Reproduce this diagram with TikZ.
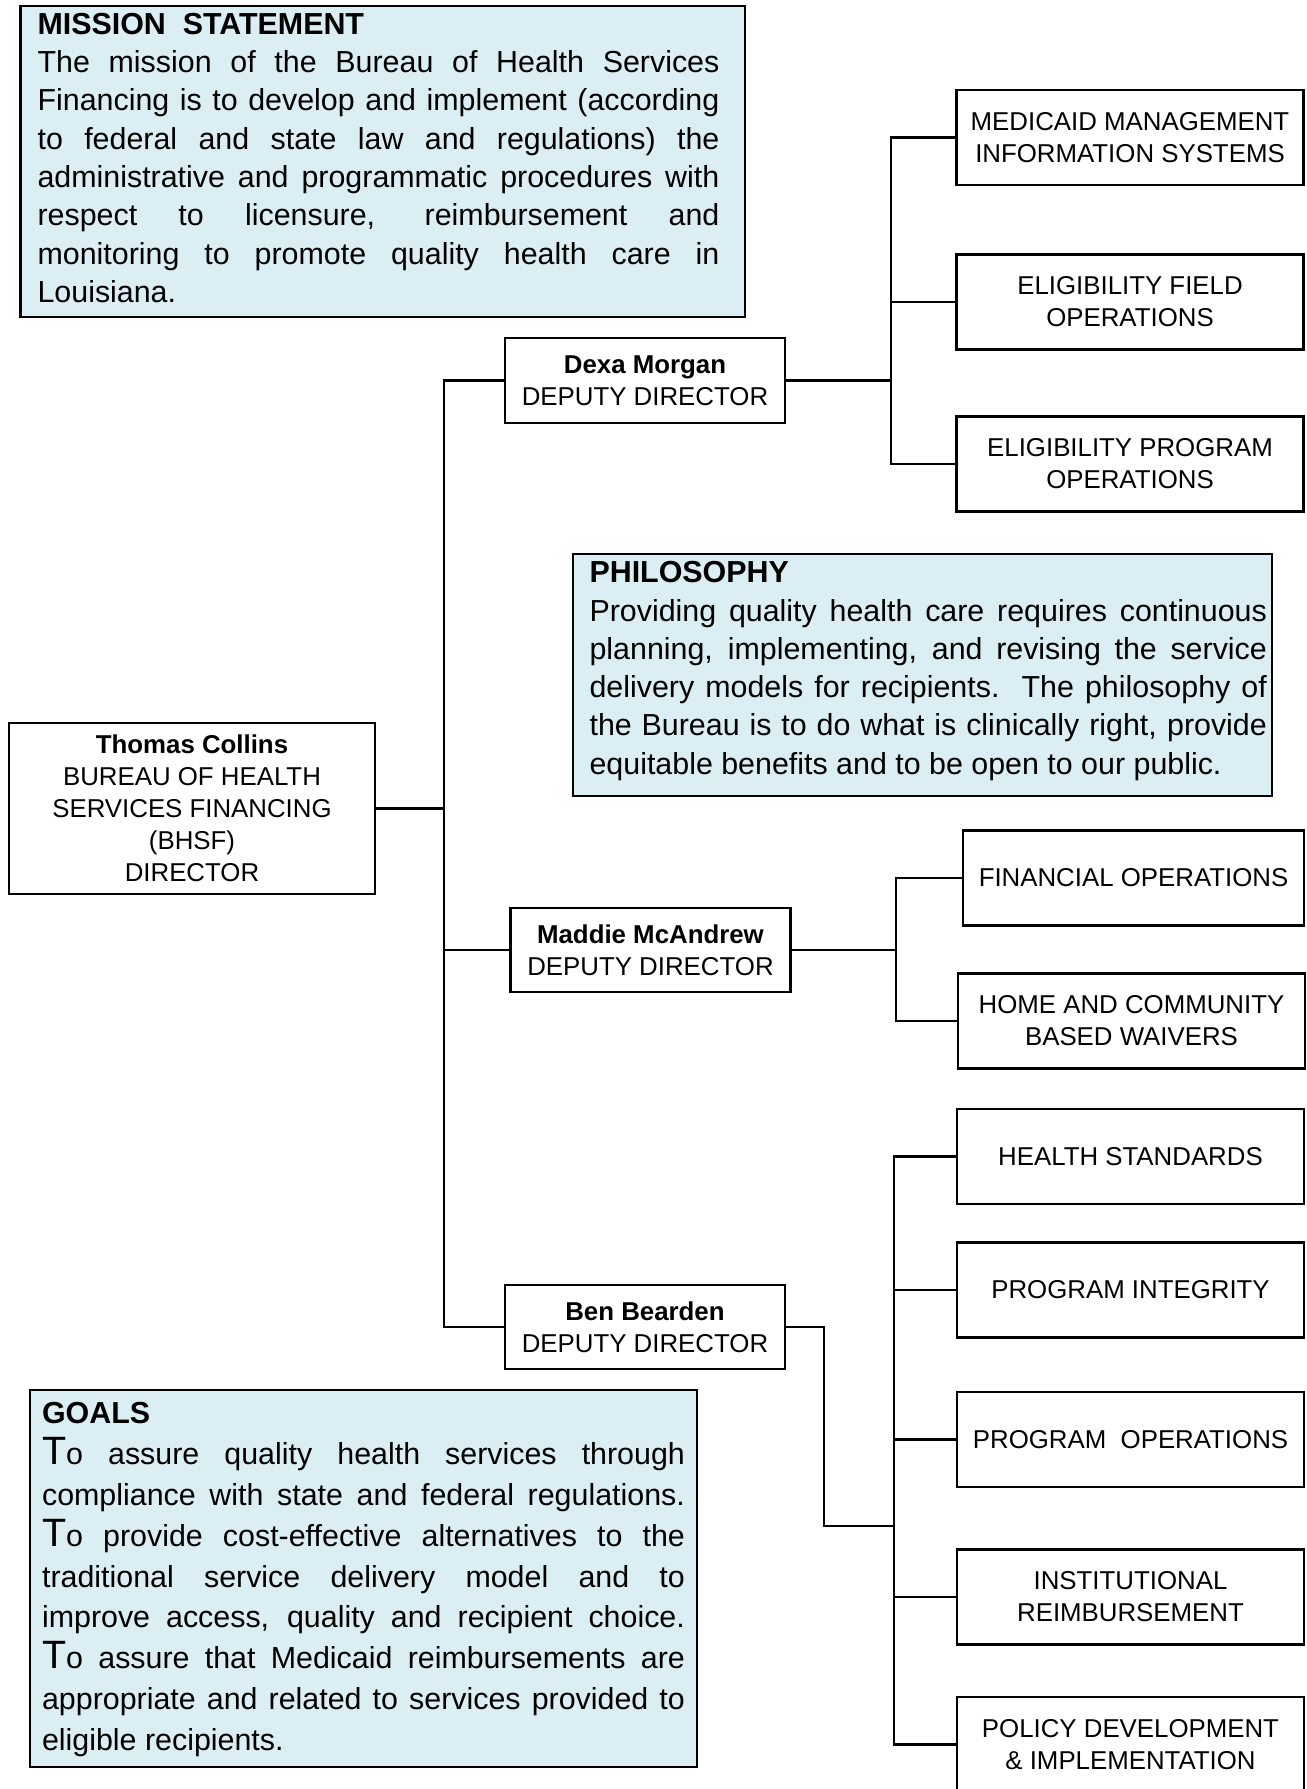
\documentclass[tikz,border=0pt]{standalone}
\usepackage{fontspec}
\setmainfont{Liberation Sans}
\usepackage{xcolor}
\usepackage{tikz}
\usetikzlibrary{calc}
\usetikzlibrary{positioning}
\definecolor{panelblue}{RGB}{218,238,243}
\newcommand{\bigT}{{\fontsize{22.5}{22.5}\selectfont T}}
\hbadness=10000

\begin{document}
\begin{tikzpicture}[x=0.02cm,y=-0.02cm,line width=1.2pt]
  \tikzstyle{org}=[draw, line width=1.3pt, align=center, inner sep=2pt,
                   font=\fontsize{14.7}{18.2}\selectfont]
  \tikzstyle{deputy}=[org, minimum width=5.6cm, minimum height=1.69cm]
  \tikzstyle{unit}=[org, minimum width=6.94cm, minimum height=1.9cm]
  \tikzstyle{panel}=[draw, line width=1.3pt, fill=panelblue, inner sep=0pt]
  \tikzstyle{paneltext}=[anchor=north west, inner sep=0pt, align=justify,
                         font=\fontsize{17.3}{21.8}\selectfont]
  \useasboundingbox (0,0) rectangle (1306,1789);

  % text panels
  \node[panel, minimum width=14.49cm, minimum height=6.22cm] (mission) at (382.75,161.35) {};
  \node[paneltext, text width=13.64cm] (missiontext) at (36.5,12)
    {\textbf{MISSION\ \ STATEMENT}\\
     The mission of the Bureau of Health Services\linebreak
     Financing is to develop and implement (according\linebreak
     to federal and state law and regulations) the\linebreak
     administrative and programmatic procedures with\linebreak
     respect to licensure, reimbursement and\linebreak
     monitoring to promote quality health care in\linebreak
     Louisiana.};

  \node[panel, minimum width=13.98cm, minimum height=4.84cm] (philosophy) at (922.5,675) {};
  \node[paneltext, text width=13.55cm] (philosophytext) at (588.5,560.5)
    {\textbf{PHILOSOPHY}\\
     Providing quality health care requires continuous\linebreak
     planning, implementing, and revising the service\linebreak
     delivery models for recipients.\ \ The philosophy of\linebreak
     the Bureau is to do what is clinically right, provide\linebreak
     equitable benefits and to be open to our public.};

  \node[panel, minimum width=13.34cm, minimum height=7.54cm] (goals) at (363.5,1578.5) {};
  \node[paneltext, text width=12.86cm, font=\fontsize{17.3}{23.3}\selectfont] (goalstext) at (41,1401)
    {\textbf{GOALS}\\
     \bigT{}o assure quality health services through\linebreak
     compliance with state and federal regulations.\linebreak
     \bigT{}o provide cost-effective alternatives to the\linebreak
     traditional service delivery model and to\linebreak
     improve access, quality and recipient choice.\linebreak
     \bigT{}o assure that Medicaid reimbursements are\linebreak
     appropriate and related to services provided to\linebreak
     eligible recipients.};

  % director and deputies
  \node[org, minimum width=7.32cm, minimum height=3.42cm] (director) at (192,808.5)
    {\textbf{Thomas Collins}\\BUREAU OF HEALTH\\SERVICES FINANCING\\(BHSF)\\DIRECTOR};
  \node[deputy] (dexa)   at (645,380.5) {\textbf{Dexa Morgan}\\DEPUTY DIRECTOR};
  \node[deputy] (maddie) at (650.5,950) {\textbf{Maddie McAndrew}\\DEPUTY DIRECTOR};
  \node[deputy] (ben)    at (645,1327)  {\textbf{Ben Bearden}\\DEPUTY DIRECTOR};

  % sections
  \node[unit] (mmis)   at (1130,137.5)  {MEDICAID MANAGEMENT\\INFORMATION SYSTEMS};
  \node[unit] (efo)    at (1130,302)    {ELIGIBILITY FIELD\\OPERATIONS};
  \node[unit] (epo)    at (1130,464)    {ELIGIBILITY PROGRAM\\OPERATIONS};
  \node[unit, minimum width=6.82cm] (finops) at (1133.5,878) {FINANCIAL OPERATIONS};
  \node[unit] (hcbw)   at (1131.5,1021) {HOME AND COMMUNITY\\BASED WAIVERS};
  \node[unit] (hstd)   at (1130.5,1156.5) {HEALTH STANDARDS};
  \node[unit] (pint)   at (1130.5,1290) {PROGRAM INTEGRITY};
  \node[unit] (pops)   at (1130.5,1439.5) {PROGRAM\ \ OPERATIONS};
  \node[unit] (inst)   at (1130.5,1597) {INSTITUTIONAL\\REIMBURSEMENT};
  \node[unit] (policy) at (1130.5,1744.5) {POLICY DEVELOPMENT\\\& IMPLEMENTATION};

  % connectors
  \coordinate (spine) at (444,808.5);
  \draw (director.east) -- (spine);
  \foreach \d in {dexa,maddie,ben}
    \draw (\d.west) -| (spine);

  \coordinate (dexabus) at (891,380.5);
  \draw (dexa.east) -- (dexabus);
  \foreach \u in {mmis,efo,epo}
    \draw (\u.west) -| (dexabus);

  \coordinate (maddiebus) at (896,950);
  \draw (maddie.east) -- (maddiebus);
  \foreach \u in {finops,hcbw}
    \draw (\u.west) -| (maddiebus);

  \coordinate (benbus) at (894,1526);
  \draw (ben.east) -- ++(38,0) |- (benbus);
  \foreach \u in {hstd,pint,pops,inst,policy}
    \draw (\u.west) -| (benbus);
\end{tikzpicture}
\end{document}
